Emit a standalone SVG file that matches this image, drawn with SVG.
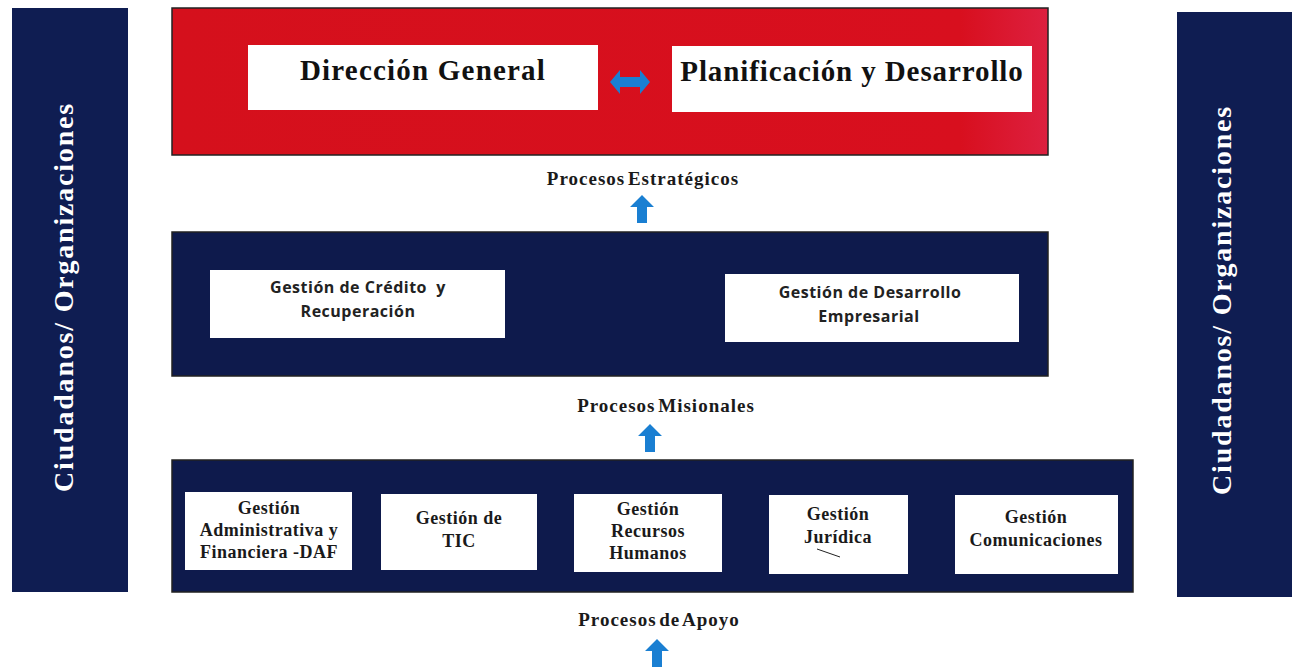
<svg xmlns="http://www.w3.org/2000/svg" width="1292" height="667" viewBox="0 0 1292 667">
<style>
.side{fill:#0f1d52}
.band{fill:#0e1a4c;stroke:#222;stroke-width:1.5}
.box{fill:#fff}
.vt{font-family:"Liberation Serif",serif;font-weight:bold;font-size:28px;letter-spacing:1.8px;fill:#fff}
.top{font-family:"Liberation Serif",serif;font-weight:bold;font-size:29px;fill:#111}
.mid{font-family:"Open Sans","Liberation Sans",sans-serif;font-weight:bold;font-size:16px;letter-spacing:0.5px;fill:#222}
.bot{font-family:"Liberation Serif",serif;font-weight:bold;font-size:18px;letter-spacing:0.5px;fill:#1a1a1a}
.lbl{font-family:"Liberation Serif",serif;font-weight:bold;font-size:19px;letter-spacing:1px;word-spacing:-3px;fill:#1a1a1a}
.arr{fill:#1a7fd2}
</style>
<defs>
<linearGradient id="red" x1="0" x2="1" y1="0" y2="0">
<stop offset="0" stop-color="#d5101c"/>
<stop offset="0.9" stop-color="#d80f1e"/>
<stop offset="1" stop-color="#dd2040"/>
</linearGradient>
<path id="up" d="M0,-14 L12,-2 L5,-2 L5,14 L-5,14 L-5,-2 L-12,-2 Z"/>
</defs>
<rect width="1292" height="667" fill="#fff"/>

<g id="side-left">
<rect class="side" x="12" y="8" width="116" height="584"/>
<text class="vt" transform="translate(73,297) rotate(-90)" text-anchor="middle">Ciudadanos/ Organizaciones</text>
</g>
<g id="side-right">
<rect class="side" x="1177" y="12" width="115" height="585"/>
<text class="vt" transform="translate(1231,300) rotate(-90)" text-anchor="middle">Ciudadanos/ Organizaciones</text>
</g>

<g id="estrategicos">
<rect x="172" y="8" width="876" height="147" fill="url(#red)" stroke="#222" stroke-width="1.5"/>
</g>
<g id="direccion">
<rect class="box" x="248" y="45" width="350" height="65"/>
<text class="top" x="423" y="80" text-anchor="middle" letter-spacing="1.2">Dirección General</text>
</g>
<g id="planificacion">
<rect class="box" x="672" y="46" width="360" height="66"/>
<text class="top" x="852" y="81" text-anchor="middle" letter-spacing="0.9">Planificación y Desarrollo</text>
</g>

<g id="misionales">
<rect class="band" x="172" y="232" width="876" height="144"/>
</g>
<g id="credito">
<rect class="box" x="210" y="270" width="295" height="68"/>
<text class="mid" x="358" y="293" text-anchor="middle" xml:space="preserve">Gestión de Crédito  y</text>
<text class="mid" x="358" y="317" text-anchor="middle">Recuperación</text>
</g>
<g id="desarrollo">
<rect class="box" x="725" y="274" width="294" height="68"/>
<text class="mid" x="870" y="298" text-anchor="middle">Gestión de Desarrollo</text>
<text class="mid" x="869" y="322" text-anchor="middle">Empresarial</text>
</g>

<g id="apoyo">
<rect class="band" x="172" y="460" width="961" height="132"/>
</g>
<g id="daf">
<rect class="box" x="185" y="492" width="167" height="78"/>
<text class="bot" x="269" y="514" text-anchor="middle">Gestión</text>
<text class="bot" x="269" y="536" text-anchor="middle">Administrativa y</text>
<text class="bot" x="269" y="558" text-anchor="middle">Financiera -DAF</text>
</g>
<g id="tic">
<rect class="box" x="381" y="494" width="156" height="76"/>
<text class="bot" x="459" y="524" text-anchor="middle">Gestión de</text>
<text class="bot" x="459" y="547" text-anchor="middle">TIC</text>
</g>
<g id="rrhh">
<rect class="box" x="574" y="494" width="148" height="78"/>
<text class="bot" x="648" y="515" text-anchor="middle">Gestión</text>
<text class="bot" x="648" y="537" text-anchor="middle">Recursos</text>
<text class="bot" x="648" y="559" text-anchor="middle">Humanos</text>
</g>
<g id="juridica">
<rect class="box" x="769" y="495" width="139" height="79"/>
<text class="bot" x="838" y="520" text-anchor="middle">Gestión</text>
<text class="bot" x="838" y="543" text-anchor="middle">Jurídica</text>
<line x1="817" y1="549" x2="840" y2="557" stroke="#222" stroke-width="1"/>
</g>
<g id="comunicaciones">
<rect class="box" x="955" y="495" width="163" height="79"/>
<text class="bot" x="1036" y="523" text-anchor="middle">Gestión</text>
<text class="bot" x="1036" y="546" text-anchor="middle">Comunicaciones</text>
</g>

<g id="labels">
<text class="lbl" x="643" y="185" text-anchor="middle">Procesos Estratégicos</text>
<text class="lbl" x="666" y="412" text-anchor="middle">Procesos Misionales</text>
<text class="lbl" x="659" y="626" text-anchor="middle">Procesos de Apoyo</text>
</g>

<g id="connectors">
<path class="arr" d="M610,82 L620,70 L620,77 L640,77 L640,70 L650,82 L640,94 L640,87 L620,87 L620,94 Z"/>
<use href="#up" class="arr" x="642" y="209"/>
<use href="#up" class="arr" x="650" y="438"/>
<use href="#up" class="arr" x="657" y="653"/>
</g>
</svg>
